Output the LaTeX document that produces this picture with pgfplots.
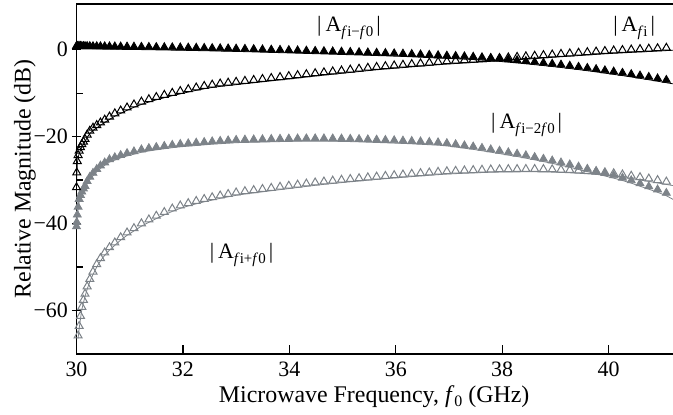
\documentclass[border=0pt]{standalone}
\usepackage{pgfplots}
\pgfplotsset{compat=1.18}
\usepackage{pgfplotstable}
\usepackage{fontspec}
\setmainfont{Liberation Serif}
\definecolor{mgray}{RGB}{125,131,137}
\pgfplotstableread{
f A B C D
30.000 0.20 -32.3 -41.3 nan
30.005 0.20 -28.9 -40.3 nan
30.015 0.20 -26.3 -38.6 nan
30.030 0.20 -24.9 -36.8 -66.4
30.050 0.19 -23.9 -35.0 -64.2
30.075 0.19 -23.1 -34.1 -61.9
30.100 0.18 -22.4 -33.3 -59.8
30.130 0.18 -21.8 -32.6 -58.2
30.160 0.17 -21.2 -32.0 -56.8
30.200 0.17 -20.2 -30.9 -55.1
30.250 0.16 -19.3 -29.9 -53.4
30.310 0.15 -18.6 -29.0 -51.7
30.380 0.14 -18.0 -28.1 -50.0
30.450 0.13 -17.4 -27.3 -48.6
30.530 0.12 -16.75 -26.6 -47.3
30.620 0.11 -16.05 -25.85 -46.1
30.720 0.09 -15.3 -25.4 -45.0
30.830 0.07 -14.65 -24.9 -43.8
30.950 0.06 -13.95 -24.45 -42.7
31.080 0.04 -13.25 -24.05 -41.7
31.220 0.01 -12.6 -23.6 -40.6
31.360 -0.02 -12.05 -23.3 -39.7
31.500 -0.05 -11.54 -23.05 -38.85
31.650 -0.08 -11.05 -22.8 -38.0
31.800 -0.11 -10.59 -22.55 -37.2
31.950 -0.14 -10.17 -22.35 -36.5
32.100 -0.17 -9.75 -22.2 -35.95
32.250 -0.21 -9.36 -22.05 -35.45
32.400 -0.25 -9.0 -21.9 -35.0
32.550 -0.29 -8.7 -21.75 -34.6
32.700 -0.33 -8.45 -21.63 -34.2
32.850 -0.37 -8.25 -21.52 -33.85
33.000 -0.41 -8.05 -21.4 -33.5
33.165 -0.46 -7.83 -21.34 -33.2
33.330 -0.52 -7.62 -21.3 -32.95
33.495 -0.58 -7.4 -21.25 -32.7
33.660 -0.64 -7.18 -21.2 -32.45
33.825 -0.69 -6.96 -21.15 -32.2
33.990 -0.75 -6.74 -21.1 -31.95
34.155 -0.81 -6.52 -21.08 -31.7
34.320 -0.87 -6.29 -21.06 -31.45
34.485 -0.93 -6.07 -21.05 -31.2
34.650 -0.99 -5.86 -21.06 -30.98
34.815 -1.05 -5.65 -21.08 -30.78
34.980 -1.11 -5.45 -21.1 -30.58
35.145 -1.17 -5.24 -21.15 -30.4
35.310 -1.23 -5.04 -21.21 -30.22
35.475 -1.29 -4.83 -21.28 -30.03
35.640 -1.36 -4.63 -21.35 -29.85
35.805 -1.42 -4.45 -21.42 -29.68
35.970 -1.49 -4.29 -21.49 -29.52
36.135 -1.56 -4.13 -21.57 -29.36
36.300 -1.65 -3.96 -21.66 -29.2
36.465 -1.74 -3.8 -21.76 -29.05
36.630 -1.84 -3.63 -21.87 -28.9
36.795 -1.93 -3.47 -21.97 -28.75
36.960 -2.02 -3.32 -22.15 -28.62
37.125 -2.09 -3.19 -22.4 -28.52
37.290 -2.18 -3.07 -22.67 -28.43
37.455 -2.28 -2.94 -22.93 -28.35
37.620 -2.4 -2.82 -23.25 -28.27
37.785 -2.54 -2.69 -23.58 -28.2
37.950 -2.7 -2.57 -23.9 -28.16
38.115 -2.88 -2.44 -24.25 -28.13
38.280 -3.07 -2.32 -24.58 -28.11
38.445 -3.26 -2.18 -24.95 -28.1
38.610 -3.45 -2.05 -25.35 -28.1
38.775 -3.66 -1.91 -25.75 -28.12
38.940 -3.88 -1.77 -26.15 -28.17
39.105 -4.1 -1.63 -26.6 -28.24
39.270 -4.34 -1.5 -27.05 -28.33
39.435 -4.59 -1.36 -27.55 -28.43
39.600 -4.85 -1.23 -28.05 -28.56
39.765 -5.12 -1.09 -28.55 -28.7
39.930 -5.4 -0.96 -29.05 -28.86
40.095 -5.68 -0.84 -29.55 -29.08
40.260 -5.97 -0.74 -30.1 -29.35
40.425 -6.28 -0.63 -30.7 -29.65
40.590 -6.6 -0.53 -31.4 -29.98
40.755 -6.92 -0.43 -32.1 -30.3
40.920 -7.26 -0.33 -32.8 -30.65
41.085 -7.6 -0.22 -33.6 -31.0
41.250 -7.95 -0.12 -34.7 -31.35
}\datatable

\begin{document}
\begin{tikzpicture}
\useasboundingbox (-76.5bp,-61bp) rectangle (596.5bp,354bp);
\begin{axis}[
  at={(0,0)}, anchor=south west,
  scale only axis, width=596.5bp, height=350bp,
  xmin=30, xmax=41.21, ymin=-70, ymax=10.5,
  separate axis lines,
  axis x line*=box, axis y line*=left,
  axis line style={-, line width=1.4bp, black},
  xtick={30,32,34,36,38,40},
  xtick pos=left, ytick pos=left,
  ytick={-60,-40,-20,0},
  yticklabels={−60,−40,−20,0},
  minor ytick={-50,-30,-10},
  xtick align=inside, ytick align=center,
  major tick length=9bp, minor tick length=7bp,
  tick style={black, line width=1.2bp},
  every minor tick/.append style={xshift=3.5bp},
  /pgf/number format/assume math mode=true,
  xticklabel style={font=\fontsize{22}{26}\selectfont, inner sep=0pt, anchor=north, yshift=-8bp},
  yticklabel style={font=\fontsize{22}{26}\selectfont, inner sep=0pt, anchor=east, xshift=-4bp},
  xlabel={Microwave Frequency, \textit{f}\raisebox{-4bp}{\fontsize{16}{16}\selectfont 0} (GHz)},
  ylabel={Relative Magnitude (dB)},
  every axis x label/.style={at={(axis description cs:0.499,-0.0886)}, anchor=north, inner sep=0pt, font=\fontsize{24}{28}\selectfont},
  every axis y label/.style={at={(axis description cs:-0.0679,0.5)}, rotate=90, anchor=south, inner sep=0pt, font=\fontsize{24}{28}\selectfont},
  clip=true,
]
\addplot[mgray, line width=0.8bp, mark=triangle, mark size=4.6bp, mark options={mgray, line width=1.0bp, yshift=2.7bp}] table[x=f,y=D] {\datatable};
\addplot[mgray, line width=0.8bp, mark=triangle*, mark size=4.6bp, mark options={mgray, fill=mgray, yshift=2.7bp}] table[x=f,y=C] {\datatable};
\addplot[black, line width=0.8bp, mark=triangle, mark size=4.6bp, mark options={black, line width=1.0bp, yshift=2.7bp}] table[x=f,y=B] {\datatable};
\addplot[black, line width=0.8bp, mark=triangle*, mark size=4.6bp, mark options={black, fill=black, yshift=2.7bp}] table[x=f,y=A] {\datatable};

\node[anchor=base, inner sep=0pt, font=\fontsize{22}{24}\selectfont] at (axis cs:35.12,4.14) {|\hspace{4bp}A\raisebox{-5bp}{\fontsize{15}{15}\selectfont\textit{f}i−\textit{f}0}\hspace{3bp}|};
\node[anchor=base, inner sep=0pt, font=\fontsize{22}{24}\selectfont] at (axis cs:40.48,4.14) {|\hspace{4bp}A\raisebox{-5bp}{\fontsize{15}{15}\selectfont\textit{f}i}\hspace{3bp}|};
\node[anchor=base, inner sep=0pt, font=\fontsize{22}{24}\selectfont] at (axis cs:38.46,-18.1) {|\hspace{4bp}A\raisebox{-5bp}{\fontsize{15}{15}\selectfont\textit{f}i−2\textit{f}0}\hspace{3bp}|};
\node[anchor=base, inner sep=0pt, font=\fontsize{22}{24}\selectfont] at (axis cs:33.1,-47.98) {|\hspace{4bp}A\raisebox{-5bp}{\fontsize{15}{15}\selectfont\textit{f}i+\textit{f}0}\hspace{3bp}|};
\end{axis}
\end{tikzpicture}
\end{document}
